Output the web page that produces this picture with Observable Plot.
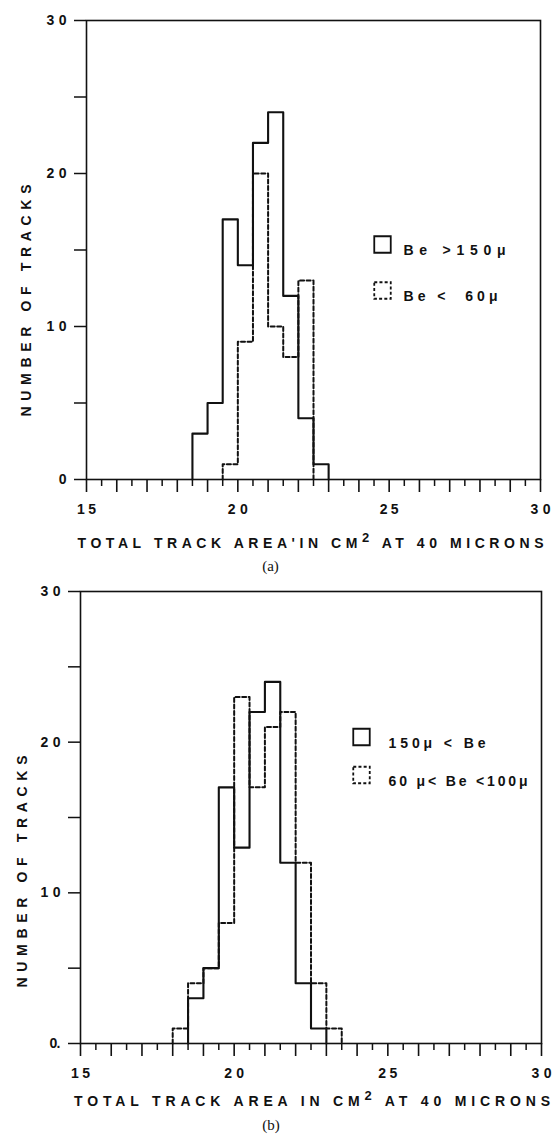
<!DOCTYPE html>
<html>
<head>
<meta charset="utf-8">
<script src="https://cdn.jsdelivr.net/npm/d3@7"></script>
<script src="https://cdn.jsdelivr.net/npm/@observablehq/plot@0.6"></script>
<style>
  html, body { margin: 0; padding: 0; background: #fff; }
  #chart svg { display: block; }
</style>
</head>
<body>
<div id="chart"></div>
<script>
// ---- data ----
// panel (a)
const binsA1 = [18.5, 19, 19.5, 20, 20.5, 21, 21.5, 22, 22.5];
const countsA1 = [3, 5, 17, 14, 22, 24, 12, 4, 1];          // Be > 150 μ
const binsA2 = [19.5, 20, 20.5, 21, 21.5, 22];
const countsA2 = [1, 9, 20, 10, 8, 13];                      // Be < 60 μ
// panel (b)
const binsB1 = [18.5, 19, 19.5, 20, 20.5, 21, 21.5, 22, 22.5];
const countsB1 = [3, 5, 17, 13, 22, 24, 12, 4, 1];          // 150 μ < Be
const binsB2 = [18, 18.5, 19, 19.5, 20, 20.5, 21, 21.5, 22, 22.5, 23];
const countsB2 = [1, 4, 5, 8, 23, 17, 21, 22, 12, 4, 1];    // 60 μ < Be < 100 μ
const binWidth = 0.5;

const yTicks = [0, 5, 10, 15, 20, 25, 30];
const yLabelsA = {0: "0", 10: "10", 20: "20", 30: "30"};
const yLabelsB = {0: "0.", 10: "10", 20: "20", 30: "30"};
const xLabelValues = [15, 20, 25, 30];
const xIntTicks = d3.range(15, 31, 1);
const xHalfTicks = d3.range(15.5, 30, 1);

const legendA = ["Be >150μ", "Be <\u00a0\u00a060μ"];
const legendB = ["150μ < Be", "60 μ< Be <100μ"];
const yTitle = "NUMBER OF TRACKS";
const xTitleA = "TOTAL TRACK AREA'IN CM² AT 40 MICRONS";
const xTitleB = "TOTAL TRACK AREA IN CM² AT 40 MICRONS";

function steps(bins, counts) {
  const pts = [{x: bins[0], y: 0}];
  bins.forEach((b, i) => pts.push({x: b, y: counts[i]}));
  pts.push({x: bins[bins.length - 1] + binWidth, y: 0});
  return pts;
}

const FONT = "'Liberation Sans', Arial, sans-serif";
const SERIF = "'Liberation Serif', 'DejaVu Serif', serif";

function panel(cfg) {
  return Plot.plot({
    width: 552,
    height: cfg.height,
    marginTop: cfg.mt,
    marginBottom: cfg.mb,
    marginLeft: cfg.ml,
    marginRight: cfg.mr,
    x: {domain: [15, 30], label: null},
    y: {domain: [0, 30], label: null},
    style: {fontFamily: FONT, fontSize: "14px", fontWeight: "bold", color: "#111", background: "#fff"},
    marks: [
      Plot.frame({stroke: "#111", strokeWidth: 1.6}),
      Plot.axisY(yTicks, {tickSize: 12, tickPadding: 8, strokeWidth: 1.5, label: null,
        tickFormat: d => cfg.yLabels[d] ?? ""}),
      Plot.axisX(xIntTicks, {tickSize: 13, tickPadding: 12, strokeWidth: 1.6, label: null,
        tickFormat: d => xLabelValues.includes(d) ? String(d) : ""}),
      Plot.axisX(xHalfTicks, {tickSize: 7, strokeWidth: 1.5, label: null, tickFormat: () => ""}),
      Plot.line(steps(cfg.bins2, cfg.counts2), {x: "x", y: "y", curve: "step-after",
        stroke: "#111", strokeWidth: 2, strokeDasharray: "4,2.5"}),
      Plot.line(steps(cfg.bins1, cfg.counts1), {x: "x", y: "y", curve: "step-after",
        stroke: "#111", strokeWidth: 2.1}),
      // legend
      Plot.dot([0], {frameAnchor: "top-left", dx: cfg.legX, dy: cfg.legY1, symbol: "square", r: 9.3,
        stroke: "#111", strokeWidth: 1.8, fill: "none"}),
      Plot.dot([0], {frameAnchor: "top-left", dx: cfg.legX, dy: cfg.legY2, symbol: "square", r: 9.3,
        stroke: "#111", strokeWidth: 1.8, fill: "none", strokeDasharray: "3,2.2"}),
      Plot.text([cfg.legend[0]], {frameAnchor: "top-left", dx: cfg.legTX, dy: cfg.legY1 + 1,
        textAnchor: "start", fontSize: 14, fontWeight: "bold"}),
      Plot.text([cfg.legend[1]], {frameAnchor: "top-left", dx: cfg.legTX, dy: cfg.legY2 + 1,
        textAnchor: "start", fontSize: 14, fontWeight: "bold"}),
      // axis titles
      Plot.text([yTitle], {frameAnchor: "left", rotate: -90, textAnchor: "start",
        fontSize: 14, fontWeight: "bold"}),
      Plot.text([cfg.xTitle], {frameAnchor: "bottom", dx: cfg.xTitleDx, dy: cfg.xTitleDy,
        fontSize: 14, fontWeight: "bold"}),
      Plot.text([cfg.tag], {frameAnchor: "bottom", dx: cfg.tagDx, dy: cfg.tagDy,
        fontSize: 15, fontWeight: "normal", fontFamily: SERIF})
    ]
  });
}

const lengths = {
  "10": 20, "20": 20, "30": 20, "15": 19, "25": 19, "0.": 11,
  "Be >150μ": 102, "Be <\u00a0\u00a060μ": 94,
  "150μ < Be": 97, "60 μ< Be <100μ": 139,
  [yTitle]: 232,
  [xTitleA]: 466, [xTitleB]: 476
};
function fit(svg, cfg) {
  d3.select(svg).selectAll("text").each(function () {
    const t = this.textContent;
    if (lengths[t] != null) {
      this.setAttribute("textLength", lengths[t]);
      this.setAttribute("lengthAdjust", "spacing");
    }
    if (t === yTitle) {
      // rotated title: starts at its bottom end and reads upward
      this.setAttribute("text-anchor", "start");
      this.setAttribute("transform", `translate(${cfg.yTitleX},${cfg.yTitleStart}) rotate(-90)`);
      this.setAttribute("dy", "0.35em");
    }
    if (t === cfg.xTitle && t.includes("²")) {
      // render the superscript 2 as a raised, larger digit like the original lettering
      const [pre, post] = t.split("²");
      const sel = d3.select(this);
      sel.text(null);
      sel.append("tspan").text(pre);
      sel.append("tspan").attr("dy", -6).attr("font-size", 13).text("2");
      sel.append("tspan").attr("dy", 6).text(post);
    }
  });
  return svg;
}

const cfgA = {
  height: 580, mt: 20, mb: 101, ml: 86, mr: 12,
  bins1: binsA1, counts1: countsA1, bins2: binsA2, counts2: countsA2,
  yLabels: yLabelsA, legend: legendA, xTitle: xTitleA, tag: "(a)",
  legX: 296, legY1: 224, legY2: 270, legTX: 317,
  yTitleX: 21, yTitleStart: 416, xTitleDx: -3, xTitleDy: 68, tagDx: -43, tagDy: 91
};
const cfgB = {
  height: 557, mt: 11, mb: 94, ml: 80, mr: 11,
  bins1: binsB1, counts1: countsB1, bins2: binsB2, counts2: countsB2,
  yLabels: yLabelsB, legend: legendB, xTitle: xTitleB, tag: "(b)",
  legX: 281, legY1: 145.5, legY2: 183.5, legTX: 308,
  yTitleX: 17, yTitleStart: 407, xTitleDx: 1, xTitleDy: 62, tagDx: -40, tagDy: 86
};
const chart = document.getElementById("chart");
chart.append(fit(panel(cfgA), cfgA), fit(panel(cfgB), cfgB));
</script>
</body>
</html>
